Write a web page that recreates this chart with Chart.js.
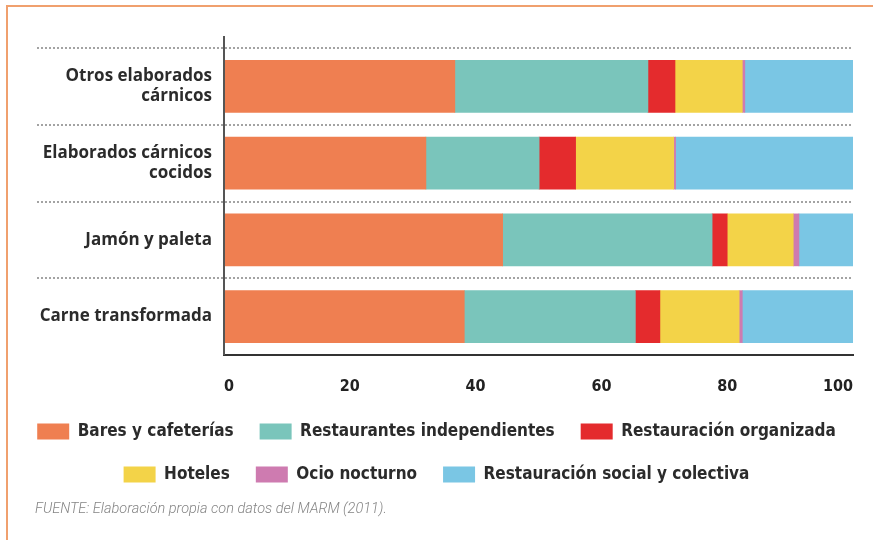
<!DOCTYPE html>
<html>
<head>
<meta charset="utf-8">
<script src="https://cdn.jsdelivr.net/npm/chart.js@4.4.1/dist/chart.umd.min.js"></script>
<style>
  html, body { margin: 0; padding: 0; background: #fff; overflow: hidden; }
  #marco { position: absolute; left: 6px; top: 5px; width: 900px; height: 600px;
           border-left: 2px solid #f0a06e; border-top: 2px solid #f0a06e; }
  #contenedor { position: absolute; left: 0; top: 0; width: 873px; height: 540px; }
  #fuente { position: absolute; left: 35px; top: 500px; font-family: 'Roboto', sans-serif;
            font-style: italic; font-weight: 300; font-size: 14.5px; color: #858585; }
</style>
</head>
<body>
<div id="marco"></div>
<div id="contenedor"><canvas id="chart_Restauracion"></canvas></div>
<div id="fuente">FUENTE: Elaboración propia con datos del MARM (2011).</div>
<script>
// categorias (de arriba a abajo)
var categorias = [
    ["Otros elaborados", "cárnicos"],
    ["Elaborados cárnicos", "cocidos"],
    "Jamón y paleta",
    "Carne transformada"
];

var series = ["Bares y cafeterías", "Restaurantes independientes", "Restauración organizada",
              "Hoteles", "Ocio nocturno", "Restauración social y colectiva"];

// % de cada canal
var bares      = [36.7, 32.1, 44.3, 38.2];
var restIndep  = [30.7, 18.0, 33.3, 27.2];
var restOrg    = [4.3, 5.8, 2.4, 3.9];
var hoteles    = [10.7, 15.6, 10.5, 12.6];
var ocio       = [0.4, 0.3, 0.9, 0.5];
var social     = [17.2, 28.2, 8.6, 17.6];

var ticksX = [0, 20, 40, 60, 80, 100];

var colores = ["#ef7f51", "#7ac5bb", "#e42b2d", "#f3d348", "#ce7bb0", "#7ac6e4"];

var fuenteLeyenda = "'DejaVu Sans Condensed', 'Roboto', sans-serif";

// lineas de puntos entre categorias + eje vertical
var separadores = {
    id: 'separadores',
    beforeDatasetsDraw: function(chart) {
        var ctx = chart.ctx;
        var y = chart.scales.y;
        var area = chart.chartArea;
        var paso = (y.bottom - y.top) / categorias.length;
        ctx.save();
        ctx.strokeStyle = '#a3a3a3';
        ctx.lineWidth = 2;
        ctx.setLineDash([2, 2]);
        for (var i = 0; i < categorias.length; i++) {
            var py = Math.round(y.getPixelForValue(i) - paso / 2);
            ctx.beginPath();
            ctx.moveTo(37, py);
            ctx.lineTo(area.right, py);
            ctx.stroke();
        }
        ctx.restore();
    },
    afterDraw: function(chart) {
        var ctx = chart.ctx;
        var area = chart.chartArea;
        ctx.save();
        ctx.strokeStyle = '#555';
        ctx.lineWidth = 2;
        ctx.beginPath();
        ctx.moveTo(area.left, area.top - 12);
        ctx.lineTo(area.left, area.bottom);
        ctx.stroke();
        ctx.restore();
    }
};

var valores = [bares, restIndep, restOrg, hoteles, ocio, social];
var datasets = [];
for (var i = 0; i < series.length; i++) {
    datasets.push({
        label: series[i],
        data: valores[i],
        backgroundColor: colores[i],
        borderWidth: 0,
        barThickness: 52
    });
}

new Chart(document.getElementById("chart_Restauracion"), {
    type: 'bar',
    data: {
        labels: categorias,
        datasets: datasets
    },
    options: {
        indexAxis: 'y',
        responsive: true,
        maintainAspectRatio: false,
        animation: false,
        layout: { padding: { left: 0, top: 48, right: 0, bottom: 47 } },
        scales: {
            x: {
                stacked: true,
                min: 0,
                max: 100,
                afterBuildTicks: function(scale) {
                    scale.ticks = ticksX.map(function(v) { return { value: v }; });
                },
                afterFit: function(scale) { scale.paddingRight = 20; scale.height = 42; },
                grid: { display: false, drawTicks: false },
                border: { display: true, color: '#333', width: 2 },
                ticks: {
                    color: '#222',
                    padding: 22,
                    align: 'inner',
                    font: { family: fuenteLeyenda, size: 16, weight: 'bold' }
                }
            },
            y: {
                stacked: true,
                grid: { display: false, drawTicks: false },
                border: { display: false },
                afterFit: function(scale) { scale.width = 224; },
                ticks: {
                    color: '#2b2b2b',
                    padding: 12,
                    font: { family: "'Open Sans', sans-serif", size: 17, weight: 'bold', lineHeight: 1.2 }
                }
            }
        },
        plugins: {
            legend: {
                position: 'bottom',
                labels: {
                    boxWidth: 32,
                    boxHeight: 16,
                    padding: 26,
                    color: '#2b2b2b',
                    font: { family: fuenteLeyenda, size: 17, weight: 'bold' }
                }
            },
            title: { display: false },
            tooltip: { enabled: false }
        }
    },
    plugins: [separadores]
});
</script>
</body>
</html>
